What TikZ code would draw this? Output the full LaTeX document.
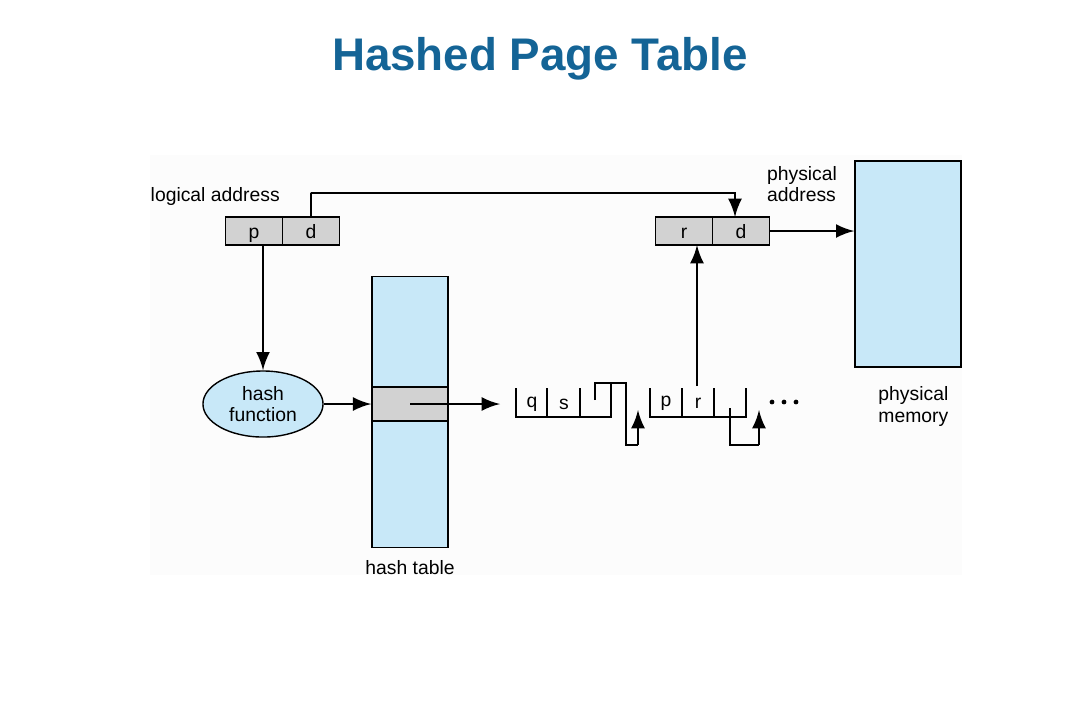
\documentclass[tikz,border=0pt]{standalone}
\usepackage{fontspec}
\setmainfont{Liberation Sans}
\usetikzlibrary{positioning,shapes.geometric}
\definecolor{titleblue}{RGB}{20,100,150}
\definecolor{memblue}{RGB}{200,232,248}
\definecolor{cellgray}{RGB}{210,210,210}
\begin{document}
\begin{tikzpicture}[x=0.01cm,y=-0.01cm,font=\fontsize{5.5}{6.2}\selectfont,
    cell/.style={draw,fill=cellgray,minimum width=0.57cm,minimum height=0.28cm,inner sep=0pt,outer sep=0pt,text height=1.1ex,text depth=0.3ex},
    link/.style={-latex,thick},
    chain/.style={thick}]
\useasboundingbox (0,0) rectangle (1080,720);
\fill[gray!2] (150,155) rectangle (962,575);
\node[text=titleblue,font=\fontsize{13}{15}\bfseries] (title) at (540,59) {Hashed Page Table};
% logical address
\node[cell] (p) at (254,231) {p};
\node[cell,right=0pt of p] (d) {d};
\node[anchor=west,inner sep=0pt] (laddr) at (150,196) {logical address};
\coordinate (pout) at (263,245);
% physical address
\node[cell] (r) at (684,231) {r};
\node[cell,right=0pt of r] (d2) {d};
\node[align=left] (paddr) at (802,184) {physical\\address};
\coordinate (dtip) at (735,217);
% physical memory
\node[draw,fill=memblue,minimum width=1.06cm,minimum height=2.06cm,inner sep=0pt] (mem) at (908,264) {};
\node[align=left,anchor=north west] (memlbl) at (866,374) {physical\\memory};
% hash function and table
\node[draw,ellipse,fill=memblue,minimum width=1.2cm,minimum height=0.66cm,inner sep=0pt,align=center] (hash) at (263,404) {hash\\function};
\node[draw,fill=memblue,minimum width=0.76cm,minimum height=2.71cm,inner sep=0pt] (table) at (410,412) {};
\node[draw,fill=cellgray,minimum width=0.76cm,minimum height=0.34cm,inner sep=0pt] (entry) at (410,404) {};
\node[below=0pt of table] (tbllbl) {hash table};
% chain
\coordinate (c1) at (500,404);
\draw[chain] (516,388) -- (516,417) -- (611,417) -- (611,384);
\foreach \x in {547,580} \draw[chain] (\x,388) -- (\x,417);
\node (q) at (532,404) {q};
\node (s) at (564,404) {s};
\draw[chain] (595,400) -- (595,383) -- (626,383) -- (626,445) -- (638,445);
\coordinate (t1) at (638,410);
\draw[link] (638,445) -- (t1);
\draw[chain] (650,388) -- (650,417) -- (746,417) -- (746,388);
\foreach \x in {682,714} \draw[chain] (\x,388) -- (\x,417);
\node (pp) at (666,403) {p};
\node (rr) at (698,403) {r};
\coordinate (rbot) at (697,386);
\draw[chain] (730,408) -- (730,445) -- (759,445);
\coordinate (t2) at (759,410);
\draw[link] (759,445) -- (t2);
\foreach \x in {772,784,796} \fill (\x,402) circle (2.4);
% connectors
\draw[link] (pout) -- (pout |- hash.north);
\draw[link] (hash) -- (entry);
\draw[link] (entry.center) -- (c1);
\draw[link] (d.north) |- (311,193) -| (dtip);
\draw[link] (rbot) -- (rbot |- r.south);
\draw[link] (d2) -- (d2 -| mem.west);
\end{tikzpicture}
\end{document}
